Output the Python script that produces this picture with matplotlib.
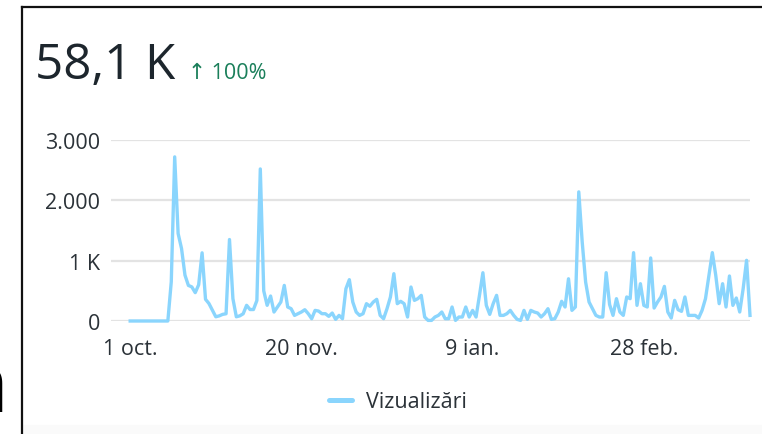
import numpy as np
import matplotlib
matplotlib.use("Agg")
import matplotlib.pyplot as plt
import matplotlib.dates as mdates
from matplotlib.lines import Line2D
from matplotlib.patches import Rectangle

plt.rcParams['font.family'] = ['Open Sans', 'DejaVu Sans']

# Daily views, 1 Oct - 31 Mar
start_date = '2022-10-01'
views = [
    0, 0, 0, 0, 0, 0, 0, 0, 0, 0, 0, 0,
    650, 2720, 1450, 1200, 760, 590, 565, 470, 600, 1130,
    360, 290, 180, 70, 85, 110, 120, 1350, 370, 70,
    85, 120, 260, 190, 190, 340, 2520, 500, 260, 414,
    149, 232, 315, 590, 232, 204, 93, 121, 149, 187,
    121, 38, 176, 165, 121, 121, 77, 132, 27, 93,
    38, 535, 685, 315, 149, 93, 121, 287, 245, 315,
    359, 93, 38, 204, 398, 784, 287, 326, 287, 66,
    563, 342, 370, 425, 66, 10, 10, 66, 93, 149,
    38, 38, 232, 10, 66, 66, 232, 66, 176, 66,
    425, 800, 259, 110, 287, 425, 93, 93, 121, 176,
    93, 27, 10, 176, 27, 176, 149, 132, 66, 121,
    204, 27, 38, 149, 326, 232, 700, 176, 232, 2140,
    1310, 646, 315, 204, 93, 66, 66, 801, 273, 93,
    370, 149, 93, 398, 370, 1133, 259, 618, 259, 232,
    1045, 215, 315, 398, 574, 149, 49, 342, 187, 160,
    398, 93, 93, 93, 49, 176, 370, 757, 1133, 757,
    287, 618, 232, 746, 259, 381, 149, 535, 1006, 93,
]
dates = np.arange(np.datetime64(start_date), np.datetime64(start_date) + len(views))

tick_dates = ['2022-10-01', '2022-11-20', '2023-01-09', '2023-02-28']
tick_labels = ['1 oct.', '20 nov.', '9 ian.', '28 feb.']
y_ticks = [0, 1000, 2000, 3000]
y_labels = ['0', '1 K', '2.000', '3.000']

total_label = '58,1 K'
change_label = '↑ 100%'
series_name = 'Vizualizări'

W, H = 762, 435
fig = plt.figure(figsize=(W / 100, H / 100), dpi=100)


def fx(px):
    return px / W


def fy(py):
    return 1 - py / H


line_color = '#8ad5fd'
text_color = '#2b3238'

ax = fig.add_axes([fx(111), fy(322), fx(750) - fx(111), fy(141) - fy(322)])
ax.plot(dates, views, color=line_color, lw=2.4, clip_on=False,
        solid_joinstyle='round', zorder=3)

ax.set_ylim(0, 3000)
d0 = np.datetime64(start_date)
ax.set_xlim(mdates.date2num(d0) - 5.6, mdates.date2num(dates[-1]))
ax.set_yticks(y_ticks)
ax.set_yticklabels(y_labels)
ax.set_xticks([mdates.date2num(np.datetime64(d)) for d in tick_dates])
ax.set_xticklabels(tick_labels)
ax.grid(axis='y', color='#e3e3e3', lw=1.6)
ax.set_axisbelow(True)
for s in ax.spines.values():
    s.set_visible(False)
ax.tick_params(axis='both', length=0, labelsize=15.5, colors=text_color)
ax.tick_params(axis='y', pad=8)
ax.tick_params(axis='x', pad=12)

# headline numbers
fig.text(fx(35), fy(79), total_label, fontsize=35.5, color='#1d262d', va='baseline')
fig.text(fx(188), fy(79), change_label, fontsize=15.5, color='#1a7f5a', va='baseline')

# legend
handle = Line2D([], [], color=line_color, lw=3.6, solid_capstyle='round')
fig.legend([handle], [series_name], loc='center', bbox_to_anchor=(fx(398), fy(403)),
           frameon=False, fontsize=15.5, handlelength=1.05, handletextpad=0.65,
           labelcolor=text_color)

# card border and clipped neighbour text
fig.add_artist(Line2D([fx(22), fx(22)], [fy(8), 0], color='#111111', lw=1.6))
fig.add_artist(Line2D([fx(22), 1], [fy(8), fy(8)], color='#111111', lw=1.6))
fig.patches.append(Rectangle((fx(23), 0), 1 - fx(23), fy(426), transform=fig.transFigure,
                             color='#fafafa', zorder=0))
fig.text(fx(9), fy(412), 'n', fontsize=60, color='black', ha='right', va='baseline')

fig.savefig('out.png', dpi=100)
